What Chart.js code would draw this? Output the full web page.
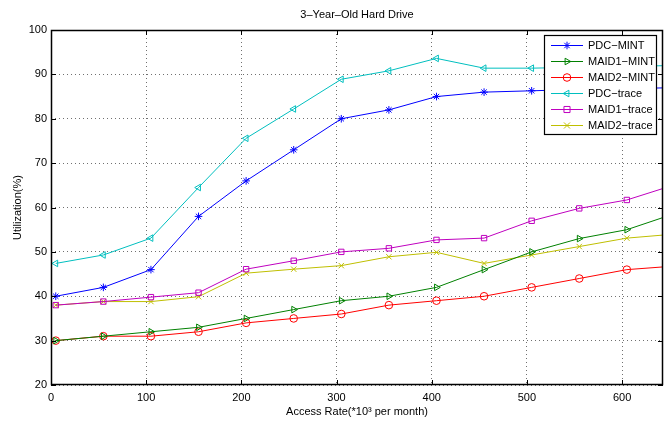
<!DOCTYPE html>
<html><head><meta charset="utf-8">
<script src="https://cdn.jsdelivr.net/npm/chart.js@4/dist/chart.umd.min.js"></script>
<style>html,body{margin:0;padding:0;background:#fff}#wrap{width:670px;height:423px;position:relative}</style>
</head><body><div id="wrap"><canvas id="c" width="670" height="423"></canvas></div>
<script>
const chartTitle = '3\u2013Year\u2013Old Hard Drive';
const xTitle = 'Access Rate(*10\u00B3 per month)';
const yTitle = 'Utilization(%)';
const accessRates = [5,55,105,155,205,255,305,355,405,455,505,555,605,655];
const pdcMint    = [40,42,46,58,66,73,80,82,85,86,86.3,86.6,86.8,87];
const maid1Mint  = [30,31,32,33,35,37,39,40,42,46,50,53,55,58.6];
const maid2Mint  = [30,31,31,32,34,35,36,38,39,40,42,44,46,46.8];
const pdcTrace   = [47.4,49.3,53.1,64.5,75.6,82.2,88.9,90.8,93.6,91.4,91.4,91.6,91.8,92];
const maid1Trace = [38,38.8,39.8,40.8,46.1,48,50,50.8,52.7,53.1,57,59.8,61.7,65.1];
const maid2Trace = [38,38.8,38.8,39.9,45.2,46.1,46.9,48.9,49.9,47.4,49.3,51.2,53.1,54];
const seriesNames = ['PDC\u2212MINT','MAID1\u2212MINT','MAID2\u2212MINT','PDC\u2212trace','MAID1\u2212trace','MAID2\u2212trace'];
const seriesValues = [pdcMint, maid1Mint, maid2Mint, pdcTrace, maid1Trace, maid2Trace];
const seriesColors = ['#0000FF','#008000','#FF0000','#00BFBF','#BF00BF','#BFBF00'];
const seriesMarkers = [['star',0],['triangle',90],['circle',0],['triangle',-90],['rect',0],['crossRot',0]];
const yTicks = [20,30,40,50,60,70,80,90,100];
const xTickStep = 100;

const FONT = 'Liberation Sans, Arial, sans-serif';

function drawMarker(ctx, style, rot, x, y, r){
  ctx.beginPath();
  if(style==='star'){
    for(let k=0;k<4;k++){const a=k*Math.PI/4;ctx.moveTo(x-Math.cos(a)*r,y-Math.sin(a)*r);ctx.lineTo(x+Math.cos(a)*r,y+Math.sin(a)*r);}
  } else if(style==='crossRot'){
    const d=r*0.8;ctx.moveTo(x-d,y-d);ctx.lineTo(x+d,y+d);ctx.moveTo(x-d,y+d);ctx.lineTo(x+d,y-d);
  } else if(style==='circle'){
    ctx.arc(x,y,r,0,Math.PI*2);
  } else if(style==='rect'){
    const d=r*0.8;ctx.rect(x-d,y-d,2*d,2*d);
  } else if(style==='triangle'){
    let a=rot*Math.PI/180;
    for(let k=0;k<3;k++){const px=x+Math.sin(a)*r,py=y-Math.cos(a)*r;k?ctx.lineTo(px,py):ctx.moveTo(px,py);a+=2*Math.PI/3;}
    ctx.closePath();
  }
  ctx.stroke();
}

const decor = {
  id:'decor',
  afterDraw(chart){
    const {ctx, chartArea:a, scales:{x,y}} = chart;
    ctx.save();
    ctx.strokeStyle='#000'; ctx.lineWidth=1;
    ctx.beginPath();
    x.ticks.forEach(t=>{const px=Math.round(x.getPixelForValue(t.value))+0.5;
      ctx.moveTo(px,a.bottom);ctx.lineTo(px,a.bottom-5);ctx.moveTo(px,a.top);ctx.lineTo(px,a.top+5);});
    y.ticks.forEach(t=>{const py=Math.round(y.getPixelForValue(t.value))+0.5;
      ctx.moveTo(a.left,py);ctx.lineTo(a.left+5,py);ctx.moveTo(a.right,py);ctx.lineTo(a.right-5,py);});
    ctx.stroke();
    ctx.lineWidth=1.5;
    ctx.strokeRect(Math.round(a.left)+0.5, Math.round(a.top)+0.5, Math.round(a.right-a.left)-1, Math.round(a.bottom-a.top)-1);
    ctx.lineWidth=1;
    ctx.fillStyle='#000'; ctx.font='11px '+FONT; ctx.textAlign='center'; ctx.textBaseline='middle';
    ctx.fillText(chartTitle,(a.left+a.right)/2,15);
    // legend
    const bx=544.5, by=35.5, bw=112, bh=99;
    ctx.fillStyle='#fff'; ctx.fillRect(bx,by,bw,bh);
    ctx.strokeStyle='#000'; ctx.lineWidth=1.2; ctx.strokeRect(bx,by,bw,bh);
    ctx.textAlign='left';
    chart.data.datasets.forEach((ds,i)=>{
      const ry=45.5+i*16;
      ctx.strokeStyle=ds.borderColor; ctx.lineWidth=1;
      ctx.beginPath();ctx.moveTo(551,ry);ctx.lineTo(583,ry);ctx.stroke();
      drawMarker(ctx, seriesMarkers[i][0], seriesMarkers[i][1], 567, ry, 3.8);
      ctx.fillStyle='#000'; ctx.fillText(ds.label,588,ry+0.5);
    });
    ctx.restore();
  }
};

const datasets = seriesNames.map((name,i)=>({
  label:name,
  data: accessRates.map((xv,j)=>({x:xv,y:seriesValues[i][j]})),
  borderColor: seriesColors[i],
  backgroundColor: 'rgba(0,0,0,0)',
  pointBackgroundColor: 'rgba(0,0,0,0)',
  pointBorderColor: seriesColors[i],
  pointStyle: seriesMarkers[i][0],
  rotation: seriesMarkers[i][1],
  pointRadius: 3.8,
  pointBorderWidth: 1,
  borderWidth: 1,
  tension: 0,
  clip: 0
}));

new Chart(document.getElementById('c'), {
  type:'line',
  data:{datasets},
  options:{
    responsive:false, animation:false,
    layout:{padding:{left:0,right:7,top:30,bottom:0}},
    plugins:{legend:{display:false},title:{display:false},tooltip:{enabled:false}},
    scales:{
      x:{type:'linear',min:0,max:643,
        ticks:{stepSize:xTickStep,includeBounds:false,color:'#000',font:{family:FONT,size:11},padding:6,maxRotation:0},
        grid:{color:'#707070',lineWidth:1,drawTicks:false},
        border:{display:false,dash:[1,3]},
        title:{display:true,text:xTitle,color:'#000',font:{family:FONT,size:11},padding:{top:0,bottom:4}},
        afterFit(s){s.height=38;}
      },
      y:{type:'linear',min:yTicks[0],max:yTicks[yTicks.length-1],
        afterBuildTicks(s){s.ticks=yTicks.map(v=>({value:v}));},
        ticks:{color:'#000',font:{family:FONT,size:11},padding:4},
        grid:{color:'#707070',lineWidth:1,drawTicks:false},
        border:{display:false,dash:[1,3]},
        title:{display:true,text:yTitle,color:'#000',font:{family:FONT,size:11},padding:{top:11,bottom:0}},
        afterFit(s){s.width=51;}
      }
    }
  },
  plugins:[decor]
});
</script></body></html>
